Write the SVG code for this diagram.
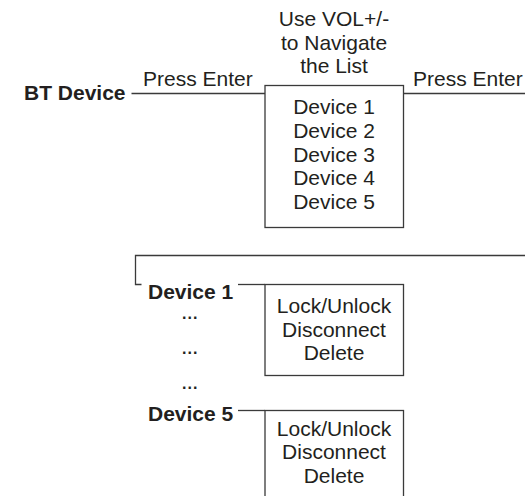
<svg xmlns="http://www.w3.org/2000/svg" width="525" height="496" viewBox="0 0 525 496">
<style>
text{font-family:"Liberation Sans",Arial,sans-serif;font-size:21px;fill:#231f20}
.b{font-weight:bold}
.c{text-anchor:middle}
.d{font-size:16px;letter-spacing:1px}
.box{fill:#fff;stroke:#3a3a3a;stroke-width:1.3}
.ln{fill:none;stroke:#3a3a3a;stroke-width:1.3}
</style>
<rect width="525" height="496" fill="#fff"/>
<g id="connectors">
<line class="ln" x1="131.5" y1="93.5" x2="265" y2="93.5"/>
<line class="ln" x1="403.5" y1="93.5" x2="525" y2="93.5"/>
<polyline class="ln" points="525,255.5 135.5,255.5 135.5,284.5 141.5,284.5"/>
<line class="ln" x1="238" y1="284.5" x2="265" y2="284.5"/>
<line class="ln" x1="238" y1="410.5" x2="265" y2="410.5"/>
</g>
<g id="bt-device"><text class="b" x="24" y="100">BT Device</text></g>
<g id="label-press-enter-1"><text x="143" y="86">Press Enter</text></g>
<g id="label-navigate">
<text class="c" x="334" y="26">Use VOL+/-</text>
<text class="c" x="334" y="49.5">to Navigate</text>
<text class="c" x="334" y="72.5">the List</text>
</g>
<g id="device-list">
<rect class="box" x="265" y="85.5" width="138.5" height="142"/>
<text class="c" x="334" y="114">Device 1</text>
<text class="c" x="334" y="137.8">Device 2</text>
<text class="c" x="334" y="161.6">Device 3</text>
<text class="c" x="334" y="185.4">Device 4</text>
<text class="c" x="334" y="209.2">Device 5</text>
</g>
<g id="label-press-enter-2"><text x="413" y="86">Press Enter</text></g>
<g id="device1"><text class="b" x="148" y="298.5">Device 1</text></g>
<g id="dots">
<text class="b d" x="182" y="318.5">...</text>
<text class="b d" x="182" y="353.5">...</text>
<text class="b d" x="182" y="388.5">...</text>
</g>
<g id="device5"><text class="b" x="148" y="420.5">Device 5</text></g>
<g id="menu1">
<rect class="box" x="265" y="284.5" width="138.5" height="91"/>
<text class="c" x="334" y="313">Lock/Unlock</text>
<text class="c" x="334" y="336.7">Disconnect</text>
<text class="c" x="334" y="360.4">Delete</text>
</g>
<g id="menu5">
<rect class="box" x="265" y="410.5" width="138.5" height="100"/>
<text class="c" x="334" y="435.5">Lock/Unlock</text>
<text class="c" x="334" y="459">Disconnect</text>
<text class="c" x="334" y="482.5">Delete</text>
</g>
</svg>
